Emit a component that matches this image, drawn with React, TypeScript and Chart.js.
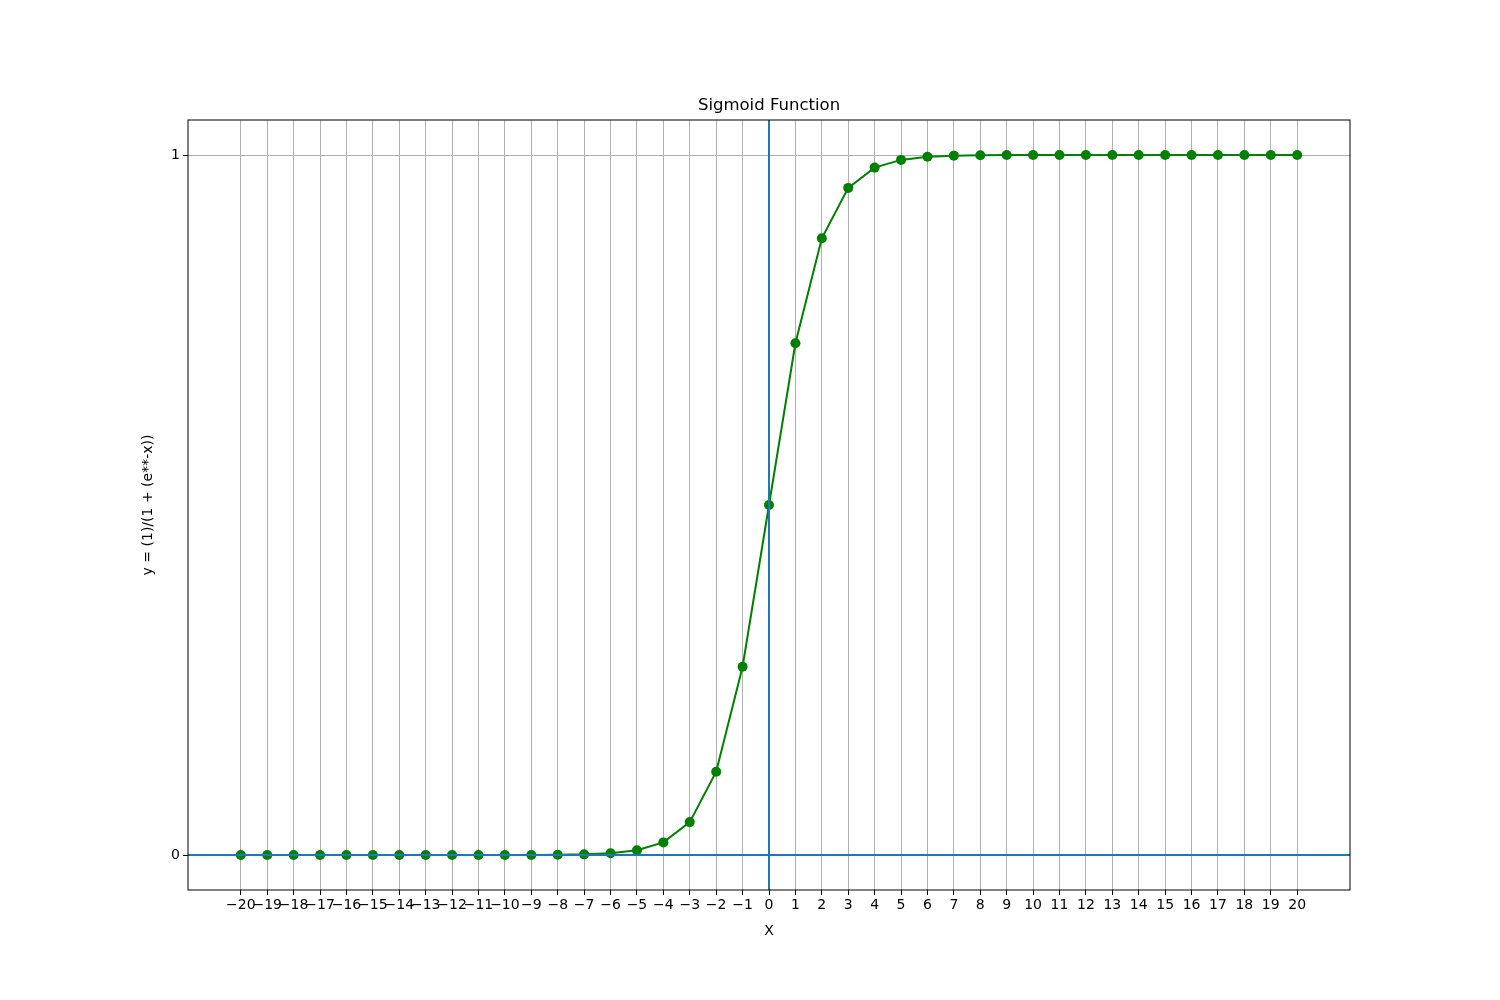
import React, { useEffect, useRef } from "react";
import { Chart, registerables } from "chart.js";

Chart.register(...registerables);

const xValues = [
  -20, -19, -18, -17, -16, -15, -14, -13, -12, -11, -10, -9, -8, -7, -6, -5, -4, -3, -2, -1,
  0, 1, 2, 3, 4, 5, 6, 7, 8, 9, 10, 11, 12, 13, 14, 15, 16, 17, 18, 19, 20,
];
const yValues = [
  0, 0, 0, 0, 0, 0, 0, 0, 0, 0, 0.00005, 0.0001, 0.0003, 0.0009, 0.0025, 0.0067, 0.018, 0.047,
  0.119, 0.269, 0.5, 0.731, 0.881, 0.953, 0.982, 0.993, 0.9975, 0.9991, 0.9997, 0.9999, 1, 1, 1,
  1, 1, 1, 1, 1, 1, 1, 1,
];
const yTicks = [0, 1];

const font = { family: "DejaVu Sans", size: 14 };

const fmt = (v: number) => (v < 0 ? "\u2212" + Math.abs(v) : String(v));

const overlay = {
  id: "overlay",
  afterDatasetsDraw(chart: any) {
    const { ctx, chartArea: a, scales } = chart;
    const x0 = scales.x.getPixelForValue(0);
    const y0 = scales.y.getPixelForValue(0);
    ctx.save();
    ctx.strokeStyle = "#1f77b4";
    ctx.lineWidth = 2;
    ctx.beginPath();
    ctx.moveTo(a.left, y0);
    ctx.lineTo(a.right, y0);
    ctx.moveTo(x0, a.top);
    ctx.lineTo(x0, a.bottom);
    ctx.stroke();
    ctx.strokeStyle = "#000";
    ctx.lineWidth = 1;
    ctx.strokeRect(a.left, a.top, a.right - a.left, a.bottom - a.top);
    ctx.fillStyle = "#000";
    ctx.font = "16.5px 'DejaVu Sans'";
    ctx.textAlign = "center";
    ctx.textBaseline = "bottom";
    ctx.fillText("Sigmoid Function", (a.left + a.right) / 2, a.top - 6);
    ctx.restore();
  },
};

export default function App() {
  const ref = useRef<HTMLCanvasElement>(null);

  useEffect(() => {
    document.body.style.margin = "0";
    if (!ref.current) return;
    const chart = new Chart(ref.current, {
      type: "line",
      data: {
        datasets: [
          {
            data: xValues.map((x, i) => ({ x, y: yValues[i] })),
            borderColor: "#008000",
            backgroundColor: "#008000",
            borderWidth: 2,
            pointRadius: 5,
            pointBorderWidth: 0,
            tension: 0,
          },
        ],
      },
      options: {
        animation: false,
        responsive: false,
        layout: { padding: { left: 140, right: 150, top: 120, bottom: 60 } },
        plugins: { legend: { display: false }, tooltip: { enabled: false } },
        scales: {
          x: {
            type: "linear",
            min: -22,
            max: 22,
            afterBuildTicks: (s: any) => {
              s.ticks = xValues.map((v) => ({ value: v }));
            },
            afterFit: (s: any) => {
              s.height = 50;
            },
            border: { display: false },
            grid: { color: "#b0b0b0", lineWidth: 1, tickLength: 5, tickColor: "#000" },
            ticks: { color: "#000", font, padding: 2, maxRotation: 0, autoSkip: false, callback: (v: any) => fmt(Number(v)) },
            title: { display: true, text: "X", color: "#000", font, padding: 0 },
          },
          y: {
            type: "linear",
            min: -0.05,
            max: 1.05,
            afterBuildTicks: (s: any) => {
              s.ticks = yTicks.map((v) => ({ value: v }));
            },
            afterFit: (s: any) => {
              s.width = 48;
            },
            border: { display: false },
            grid: { color: "#b0b0b0", lineWidth: 1, tickLength: 5, tickColor: "#000" },
            ticks: { color: "#000", font, padding: 3, callback: (v: any) => fmt(Number(v)) },
            title: { display: true, text: "y = (1)/(1 + (e**-x))", color: "#000", font, padding: 0 },
          },
        },
      },
      plugins: [overlay],
    } as any);
    return () => chart.destroy();
  }, []);

  return (
    <div style={{ width: 1500, height: 1000, background: "#fff" }}>
      <canvas ref={ref} width={1500} height={1000} />
    </div>
  );
}
